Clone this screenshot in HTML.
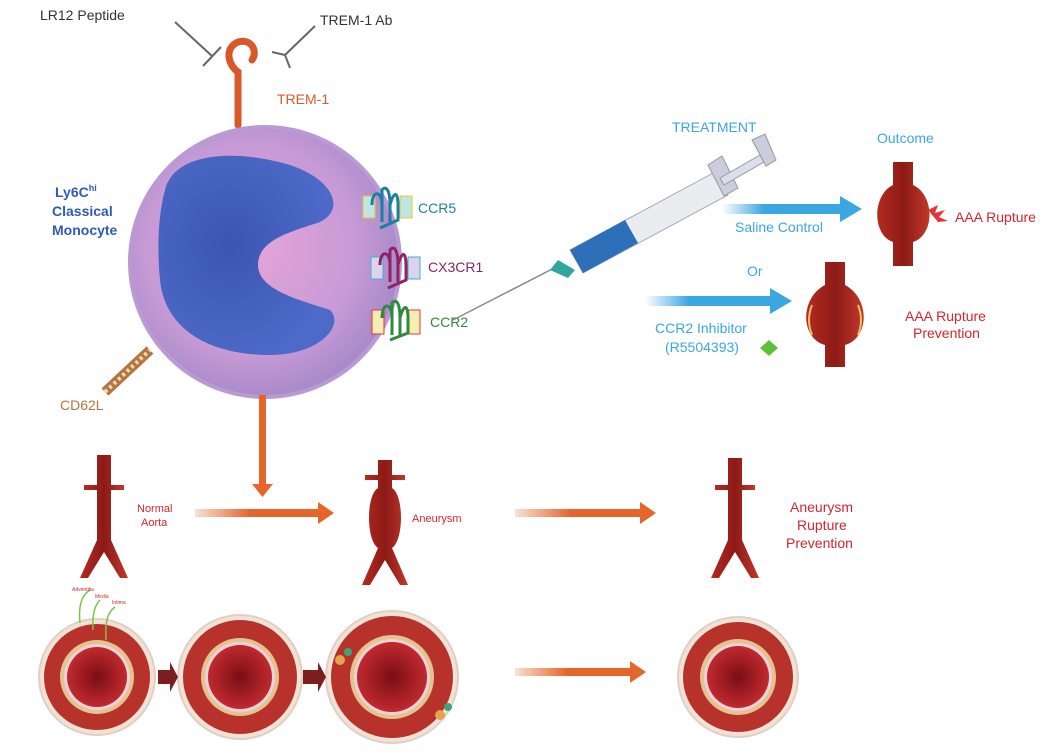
<!DOCTYPE html>
<html><head><meta charset="utf-8"><style>
html,body{margin:0;padding:0;background:#fff;width:1052px;height:755px;overflow:hidden}
svg{display:block}
text{font-family:"Liberation Sans",sans-serif}
</style></head><body>
<svg width="1052" height="755" viewBox="0 0 1052 755">
<defs>
<radialGradient id="cell" cx="0.45" cy="0.45" r="0.55">
<stop offset="0" stop-color="#e6a4d8"/><stop offset="0.7" stop-color="#c79ad6"/><stop offset="1" stop-color="#a98bc9"/>
</radialGradient>
<radialGradient id="nuc" cx="0.4" cy="0.45" r="0.6">
<stop offset="0" stop-color="#3a56b0"/><stop offset="1" stop-color="#4d6ac8"/>
</radialGradient>
<radialGradient id="lumen" cx="0.5" cy="0.5" r="0.5">
<stop offset="0" stop-color="#7a0d15"/><stop offset="1" stop-color="#c02a2e"/>
</radialGradient>
<linearGradient id="blueArr" x1="0" x2="1"><stop offset="0" stop-color="#3aa7e2" stop-opacity="0"/><stop offset="0.3" stop-color="#3aa7e2"/></linearGradient>
<linearGradient id="orArr" x1="0" x2="1"><stop offset="0" stop-color="#e5652b" stop-opacity="0.2"/><stop offset="0.4" stop-color="#e5652b"/></linearGradient>
<linearGradient id="vess" x1="0" x2="1"><stop offset="0" stop-color="#b52a22"/><stop offset="0.5" stop-color="#8c1a16"/><stop offset="1" stop-color="#c0392b"/></linearGradient>
</defs>

<!-- top labels -->
<text x="40" y="20" font-size="14" fill="#333">LR12 Peptide</text>
<text x="320" y="25" font-size="14" fill="#333">TREM-1 Ab</text>
<line x1="175" y1="22" x2="212" y2="56" stroke="#666" stroke-width="2"/>
<line x1="203" y1="66" x2="221" y2="47" stroke="#666" stroke-width="2"/>
<line x1="315" y1="26" x2="285" y2="55" stroke="#666" stroke-width="2"/>
<path d="M272 52 L285 55 L290 68" stroke="#666" stroke-width="2" fill="none"/>
<!-- TREM-1 hook -->
<path d="M238 125 L238 72 C228 65 224 48 238 42 C252 38 258 52 252 60" stroke="#d9582a" stroke-width="7" fill="none" stroke-linecap="round"/>
<text x="277" y="104" font-size="14" fill="#d9582a">TREM-1</text>

<!-- cell -->
<circle cx="265" cy="262" r="135" fill="url(#cell)" stroke="#b99ad2" stroke-width="4"/>
<path d="M165 190 C175 150 240 150 290 165 C335 180 345 210 320 222 C290 232 258 240 258 265 C258 290 300 300 330 310 C345 325 320 355 270 355 C210 355 165 330 160 280 C157 250 158 215 165 190Z" fill="url(#nuc)"/>
<text x="55" y="197" font-size="14" fill="#2f5bb5" font-weight="bold">Ly6C<tspan font-size="9" dy="-6">hi</tspan></text>
<text x="52" y="216" font-size="14" fill="#2f5bb5" font-weight="bold">Classical</text>
<text x="52" y="235" font-size="14" fill="#2f5bb5" font-weight="bold">Monocyte</text>

<!-- receptors -->
<g stroke-width="3" fill="none">
<rect x="363" y="196" width="12" height="22" fill="#bfe6df" stroke="#e3c53a" stroke-width="1"/>
<rect x="400" y="196" width="12" height="22" fill="#bfe6df" stroke="#e3c53a" stroke-width="1"/>
<path d="M372 205 C372 190 382 190 382 205 V222 M382 205 V190 C386 185 390 190 390 205 V222 M390 205 C394 190 398 192 398 205 V220 L380 228" stroke="#1c7fa6"/>
<rect x="371" y="257" width="12" height="22" fill="#ddd3ec" stroke="#3bb3d0" stroke-width="1"/>
<rect x="408" y="257" width="12" height="22" fill="#ddd3ec" stroke="#3bb3d0" stroke-width="1"/>
<path d="M380 265 C380 250 390 250 390 265 V282 M390 265 V250 C394 245 398 250 398 265 V282 M398 265 C402 250 406 252 406 265 V280 L388 288" stroke="#8e2463"/>
<rect x="372" y="310" width="12" height="24" fill="#f6eeb0" stroke="#e3343a" stroke-width="1"/>
<rect x="408" y="310" width="12" height="24" fill="#f6eeb0" stroke="#e3343a" stroke-width="1"/>
<path d="M382 318 C382 302 392 302 392 318 V335 M392 318 V303 C396 298 400 303 400 318 V335 M400 318 C404 303 408 305 408 318 V333 L390 340" stroke="#2e8a3c"/>
</g>
<text x="418" y="213" font-size="14" fill="#1c7fa6">CCR5</text>
<text x="428" y="272" font-size="14" fill="#8e2463">CX3CR1</text>
<text x="430" y="327" font-size="14" fill="#2e8a3c">CCR2</text>
<!-- CD62L -->
<path d="M105 392 L150 350" stroke="#b5753e" stroke-width="10"/>
<path d="M105 392 L150 350" stroke="#f1d9b8" stroke-width="4" stroke-dasharray="3 3"/>
<text x="60" y="410" font-size="14" fill="#b5753e">CD62L</text>

<!-- syringe -->
<line x1="453" y1="320" x2="560" y2="265" stroke="#888" stroke-width="1.5"/>
<path d="M558 260 L575 270 L568 278 L550 270Z" fill="#2fa79c"/>
<path d="M570 250 L715 172 L728 195 L583 273Z" fill="#e9edf0" stroke="#aab" stroke-width="1"/>
<path d="M570 250 L625 220 L638 243 L583 273Z" fill="#2d6fb8"/>
<path d="M708 165 L722 156 L738 188 L724 196Z" fill="#ccd" stroke="#999"/>
<path d="M720 178 L760 155 L764 162 L724 185Z" fill="#dde" stroke="#999"/>
<path d="M752 140 L765 134 L776 160 L766 166Z" fill="#ccd" stroke="#999"/>
<text x="672" y="132" font-size="14" fill="#3aa7e2">TREATMENT</text>
<text x="877" y="143" font-size="14" fill="#3aa7e2">Outcome</text>
<path d="M722 204 H840 V196 L862 209 L840 222 V214 H722Z" fill="url(#blueArr)"/>
<text x="735" y="232" font-size="14" fill="#3aa7e2">Saline Control</text>
<text x="747" y="276" font-size="14" fill="#3aa7e2">Or</text>
<path d="M645 296 H770 V288 L792 301 L770 314 V306 H645Z" fill="url(#blueArr)"/>
<text x="655" y="333" font-size="14" fill="#3aa7e2">CCR2 Inhibitor</text>
<text x="665" y="352" font-size="14" fill="#3aa7e2">(R5504393)</text>
<path d="M769 340 L778 348 L769 356 L760 348Z" fill="#5fbf3a"/>
<!-- outcome vessels -->
<path d="M893 162 H913 V185 C935 195 935 235 913 242 V266 H893 V242 C872 235 872 195 893 185Z" fill="url(#vess)"/>
<path d="M928 210 l10 -5 l-3 8 l10 -3 l-6 7 l9 4 l-10 1z" fill="#e3343a"/>
<text x="955" y="222" font-size="14" fill="#d4262e">AAA Rupture</text>
<path d="M825 262 H845 V285 C870 298 870 338 845 345 V367 H825 V345 C800 338 800 298 825 285Z" fill="url(#vess)"/>
<path d="M812 305 C808 315 808 325 812 335 M858 305 C862 315 862 325 858 335" stroke="#f0c060" stroke-width="2" fill="none"/>
<text x="905" y="321" font-size="14" fill="#d4262e">AAA Rupture</text>
<text x="913" y="338" font-size="14" fill="#d4262e">Prevention</text>

<!-- down arrow -->
<path d="M259 395 H266 V484 H273 L262.5 497 L252 484 H259Z" fill="#e5652b"/>

<!-- aorta row -->
<g fill="url(#vess)">
<path d="M97 455 H111 V540 L128 578 H120 L104 552 L88 578 H80 L97 540Z"/>
<path d="M378 460 H392 V488 C404 495 404 540 392 548 L408 585 H400 L385 560 L370 585 H362 L378 548 C366 540 366 495 378 488Z"/>
<path d="M728 458 H742 V540 L759 578 H751 L735 552 L719 578 H711 L728 540Z"/>
<path d="M84 485 H124 V490 H84Z"/><path d="M365 475 H405 V480 H365Z"/><path d="M715 485 H755 V490 H715Z"/>
</g>
<text x="137" y="512" font-size="11" fill="#d4262e">Normal</text>
<text x="141" y="526" font-size="11" fill="#d4262e">Aorta</text>
<text x="412" y="522" font-size="11" fill="#d4262e">Aneurysm</text>
<text x="790" y="512" font-size="14" fill="#d4262e">Aneurysm</text>
<text x="797" y="530" font-size="14" fill="#d4262e">Rupture</text>
<text x="786" y="548" font-size="14" fill="#d4262e">Prevention</text>
<path d="M195 509 H318 V502 L334 513 L318 524 V517 H195Z" fill="url(#orArr)"/>
<path d="M515 509 H640 V502 L656 513 L640 524 V517 H515Z" fill="url(#orArr)"/>

<!-- cross sections -->
<g>
<circle cx="97" cy="677" r="58" fill="#f1e2d6" stroke="#e0d0c4" stroke-width="2"/>
<circle cx="97" cy="677" r="53" fill="#b8322c"/>
<circle cx="97" cy="677" r="37" fill="#e2c48c"/>
<circle cx="97" cy="677" r="33" fill="#f0d0dc"/>
<circle cx="97" cy="677" r="30" fill="url(#lumen)"/>

<circle cx="240" cy="677" r="62" fill="#f1e2d6" stroke="#e0d0c4" stroke-width="2"/>
<circle cx="240" cy="677" r="57" fill="#b8322c"/>
<circle cx="240" cy="677" r="39" fill="#e2c48c"/>
<circle cx="240" cy="677" r="35" fill="#f0d0dc"/>
<circle cx="240" cy="677" r="32" fill="url(#lumen)"/>

<circle cx="392" cy="677" r="66" fill="#f1e2d6" stroke="#e0d0c4" stroke-width="2"/>
<circle cx="392" cy="677" r="61" fill="#b8322c"/>
<circle cx="392" cy="677" r="42" fill="#e2c48c"/>
<circle cx="392" cy="677" r="38" fill="#f0d0dc"/>
<circle cx="392" cy="677" r="35" fill="url(#lumen)"/>

<circle cx="738" cy="677" r="60" fill="#f1e2d6" stroke="#e0d0c4" stroke-width="2"/>
<circle cx="738" cy="677" r="55" fill="#b8322c"/>
<circle cx="738" cy="677" r="38" fill="#e2c48c"/>
<circle cx="738" cy="677" r="34" fill="#f0d0dc"/>
<circle cx="738" cy="677" r="31" fill="url(#lumen)"/>
</g>
<path d="M158 670 H170 V662 L178 677 L170 692 V684 H158Z" fill="#7d1e1e"/>
<path d="M303 670 H318 V662 L326 677 L318 692 V684 H303Z" fill="#7d1e1e"/>
<path d="M515 668 H630 V661 L646 672 L630 683 V676 H515Z" fill="url(#orArr)"/>
<path d="M80 623 C78 605 82 595 90 590 M93 630 C92 615 95 605 100 600 M106 640 C105 620 108 612 115 607" stroke="#7cc24a" stroke-width="1.5" fill="none"/>
<text x="72" y="591" font-size="5" fill="#d4262e">Adventitia</text>
<text x="95" y="598" font-size="5" fill="#d4262e">Media</text>
<text x="112" y="604" font-size="5" fill="#d4262e">Intima</text>
<circle cx="340" cy="660" r="5" fill="#e7a24a"/><circle cx="348" cy="652" r="4" fill="#3aa77a"/>
<circle cx="440" cy="715" r="5" fill="#e7a24a"/><circle cx="448" cy="707" r="4" fill="#3aa77a"/>
</svg>
</body></html>
